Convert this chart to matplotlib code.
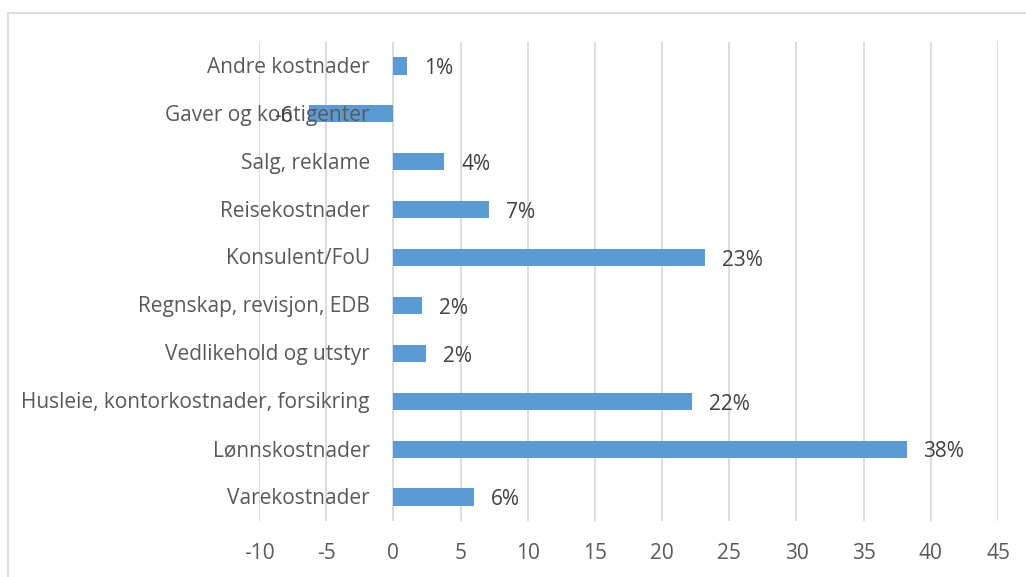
import matplotlib.pyplot as plt
from matplotlib.lines import Line2D
import numpy as np

# Data (bottom to top)
categories = ['Varekostnader', 'Lønnskostnader', 'Husleie, kontorkostnader, forsikring',
              'Vedlikehold og utstyr', 'Regnskap, revisjon, EDB', 'Konsulent/FoU',
              'Reisekostnader', 'Salg, reklame', 'Gaver og kontigenter', 'Andre kostnader']
values = [6.0, 38.2, 22.25, 2.45, 2.15, 23.2, 7.15, 3.8, -6.25, 1.05]
value_labels = ['6%', '38%', '22%', '2%', '2%', '23%', '7%', '4%', '-6', '1%']
xticks = [-10, -5, 0, 5, 10, 15, 20, 25, 30, 35, 40, 45]

plt.rcParams['font.family'] = ['Open Sans', 'DejaVu Sans']

fig = plt.figure(figsize=(10.26, 5.77), dpi=100)
ax = fig.add_axes([259 / 1026, 1 - 521 / 577, (998 - 259) / 1026, (521 - 42) / 577])

y = np.arange(len(categories))
ax.barh(y, values, height=0.36, color='#5b9bd5', zorder=2)

ax.set_xlim(-10, 45)
ax.set_ylim(-0.5, len(categories) - 0.5)
ax.set_xticks(xticks)
ax.set_xticklabels([str(t) for t in xticks], fontsize=15, color='#595959')
ax.tick_params(axis='x', length=0, pad=16)
ax.set_yticks([])
ax.grid(axis='x', color='#d9d9d9', linewidth=1.3, zorder=0)
for s in ax.spines.values():
    s.set_visible(False)

# category labels next to the zero axis
for yi, cat in zip(y, categories):
    ax.annotate(cat, (0, yi), xytext=(-17, -1), textcoords='offset points',
                ha='right', va='center', fontsize=15, color='#595959', zorder=3)

# value labels
for yi, v, lab in zip(y, values, value_labels):
    if v >= 0:
        ax.annotate(lab, (v, yi), xytext=(12, -2), textcoords='offset points',
                    ha='left', va='center', fontsize=15, color='#404040', zorder=3)
    else:
        ax.annotate(lab, (v, yi), xytext=(-12, -2), textcoords='offset points',
                    ha='right', va='center', fontsize=15, color='#404040', zorder=3)

# outer chart border (top and left)
fig.add_artist(Line2D([8 / 1026, 1], [1 - 13 / 577, 1 - 13 / 577], color='#d9d9d9', linewidth=1.2))
fig.add_artist(Line2D([8 / 1026, 8 / 1026], [0, 1 - 13 / 577], color='#d9d9d9', linewidth=1.2))

fig.savefig('out.png', dpi=100)
